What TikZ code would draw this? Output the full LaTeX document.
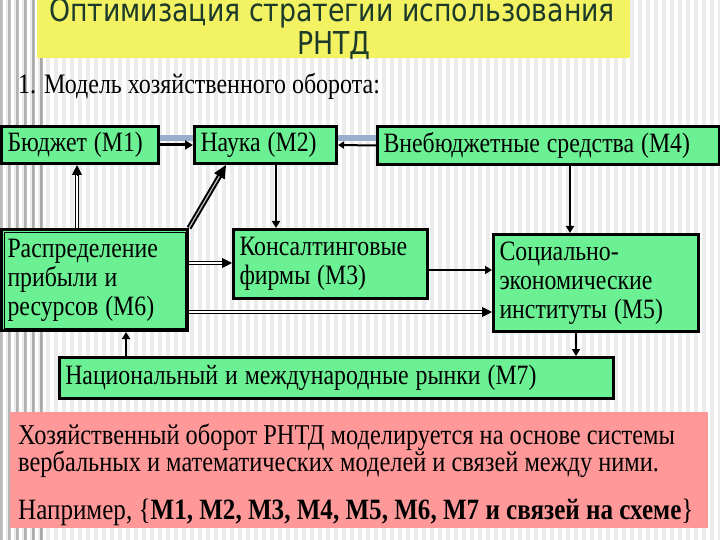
\documentclass[tikz,border=0pt]{standalone}
\usepackage{fontspec}
\setmainfont{Liberation Serif}[FakeStretch=0.85]
\newfontfamily\titlefont{DejaVu Sans}[FakeStretch=0.85]
\usetikzlibrary{arrows.meta,calc}
\definecolor{bgc}{RGB}{236,236,236}
\definecolor{boxgreen}{RGB}{108,240,148}
\definecolor{titleyellow}{RGB}{242,242,98}
\definecolor{titletext}{RGB}{28,58,42}
\definecolor{pinkbox}{RGB}{255,153,153}
\definecolor{bandblue}{RGB}{155,175,205}
\begin{document}
\begin{tikzpicture}[x=1pt,y=-1pt,
  box/.style={draw=black,line width=3pt,fill=boxgreen,anchor=north west,inner xsep=6pt,inner ysep=0pt,align=left,font=\fontsize{28}{29}\selectfont,execute at begin node={\spaceskip=7pt plus 1pt\relax}},
  single/.style={line width=2.4pt,-{Triangle[length=7pt,width=8pt]}},
  dbl/.style={draw=black,line width=1.2pt,double=white,double distance=1.5pt},
  tip/.style={line width=1pt,-{Triangle[length=10pt,width=10pt]}},
  btext/.style={anchor=base west,inner sep=0pt,font=\fontsize{28.7}{29}\selectfont}]
\useasboundingbox (0,0) rectangle (720,540);
% background
\fill[bgc] (0,0) rectangle (720,540);
\foreach \i in {0,...,89} \fill[white] (\i*8+2,0) rectangle ++(4,540);
\foreach \i/\g in {0/62,1/66,2/70,3/74,4/78,5/82}
  \fill[black!\g!white,opacity=0.35] (\i*8,0) rectangle ++(3,540);
% title
\fill[titleyellow] (37,0) rectangle (630,58);
\node[anchor=base,inner sep=0pt,text=titletext,font=\titlefont\fontsize{31.5}{35}\selectfont] (t1) at (332,22) {Оптимизация стратегии использования};
\node[anchor=base,inner sep=0pt,text=titletext,font=\titlefont\fontsize{31.5}{35}\selectfont] (t2) at (334,55) {РНТД};
\node[anchor=base west,inner sep=0pt,font=\fontsize{28.2}{28}\selectfont] (sub) at (18,94) {1. Модель хозяйственного оборота:};
% bands
\fill[bandblue] (157,135) rectangle (193,141);
\fill[bandblue] (335,135) rectangle (376,141);
% boxes
\node[box,minimum width=157pt,minimum height=37pt,text width=145pt] (m1) at (0,125) {Бюджет (M1)};
\node[box,minimum width=142pt,minimum height=37pt,text width=130pt] (m2) at (193,125) {Наука (M2)};
\node[box,minimum width=342pt,minimum height=38pt,text width=330pt] (m4) at (376,125) {Внебюджетные средства (M4)};
\node[box,minimum width=186pt,minimum height=101pt,text width=174pt] (m6) at (0,228) {Распределение\\прибыли и\\ресурсов (M6)};
\draw[line width=0.8pt] ($(m6.north west)+(4,4)$) rectangle ($(m6.south east)+(-4,-4)$);
\node[box,minimum width=194pt,minimum height=69pt,text width=182pt] (m3) at (232,228) {Консалтинговые\\фирмы (M3)};
\node[box,minimum width=205pt,minimum height=97pt,text width=193pt] (m5) at (492,233) {Социально-\\экономические\\институты (M5)};
\node[box,line width=2.5pt,minimum width=554pt,minimum height=41pt,text width=542pt] (m7) at (58,356) {Национальный и международные рынки (M7)};
% coordinates for connectors
\coordinate (c23) at (276,0);
\coordinate (c45) at (570,0);
\coordinate (c61) at (77,0);
\coordinate (c62) at (226,0);
\coordinate (r63) at (0,263);
\coordinate (r35) at (0,270);
\coordinate (r65) at (0,312);
\coordinate (c76) at (126,0);
\coordinate (c57) at (576,0);
% connectors
\draw[line width=3pt,-{Triangle[length=8pt,width=9pt]}] (m1.east) -- (m2.west);
\draw[line width=2pt,-{Triangle[length=6pt,width=7pt]}] (m4.west) -- (m2.east);
\draw[single] (c23 |- m2.south) -- (c23 |- m3.north);
\draw[single] (c45 |- m4.south) -- (c45 |- m5.north);
\draw[single] (m3.east |- r35) -- (m5.west |- r35);
\draw[single] (c76 |- m7.north) -- (c76 |- m6.south);
\draw[single] (c57 |- m5.south) -- (c57 |- m7.north);
% double connectors
\draw[dbl,shorten >=8pt] (c61 |- m6.north) -- (c61 |- m1.south);
\draw[tip] ($(c61 |- m1.south)+(0,10)$) -- (c61 |- m1.south);
\draw[dbl,shorten >=8pt] (m6.east |- r63) -- (m3.west |- r63);
\draw[tip] ($(m3.west |- r63)+(-10,0)$) -- (m3.west |- r63);
\draw[dbl,shorten >=8pt] (m6.east |- r65) -- (m5.west |- r65);
\draw[tip] ($(m5.west |- r65)+(-10,0)$) -- (m5.west |- r65);
\draw[draw=black,line width=2pt,double=gray!50,double distance=1.2pt,shorten >=10pt] (m6.north east) -- (c62 |- m2.south);
\draw[line width=1pt,-{Triangle[length=13pt,width=12pt]}] ($(c62 |- m2.south)!12pt!(m6.north east)$) -- (c62 |- m2.south);
% pink box
\fill[pinkbox] (10,412) rectangle (708,528);
\node[btext] (p1) at (18,444) {Хозяйственный оборот РНТД моделируется на основе системы};
\node[btext] (p2) at (18,471) {вербальных и математических моделей и связей между ними.};
\node[btext,font=\fontsize{29.5}{29}\selectfont] (p3) at (18,519) {Например, \{\textbf{M1, M2, M3, M4, M5, M6, M7 и связей на схеме}\}};
\end{tikzpicture}
\end{document}
